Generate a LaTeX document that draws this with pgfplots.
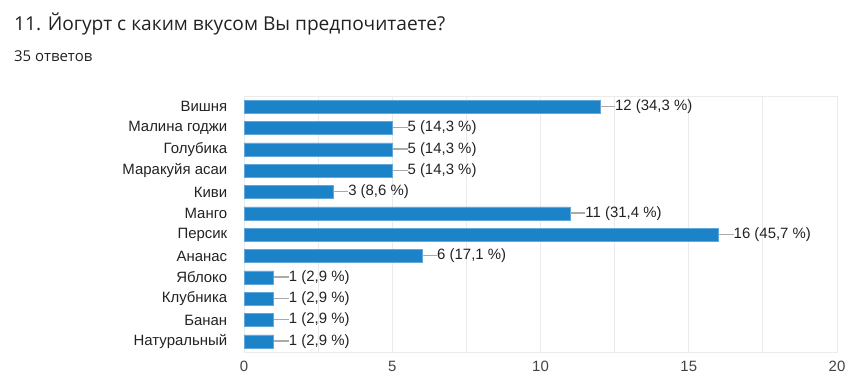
\documentclass[border=0pt]{standalone}
\usepackage{pgfplots}
\usepackage{pgfplotstable}
\usepackage{fontspec}
\pgfplotsset{compat=1.18}
\setmainfont{Liberation Sans}
\newfontfamily\titlefont{Open Sans}
\definecolor{barblue}{HTML}{1C83C9}
\definecolor{gridgray}{HTML}{EBEBEB}
\definecolor{leader}{HTML}{AAAAAA}
\definecolor{txt}{HTML}{222222}
\definecolor{ticktxt}{HTML}{444444}
\pgfplotsset{/pgf/number format/assume math mode=true}
\pgfplotstableread{
idx value pct
0 12 34,3
1 5 14,3
2 5 14,3
3 5 14,3
4 3 8,6
5 11 31,4
6 16 45,7
7 6 17,1
8 1 2,9
9 1 2,9
10 1 2,9
11 1 2,9
}\datatable
\begin{document}
\begin{tikzpicture}[x=1bp,y=1bp]
\path[use as bounding box] (0,0) rectangle (856,386);
\node[anchor=west, inner sep=0pt, text=txt] at (14,362) {\titlefont\fontsize{19.2}{23}\selectfont 11. Йогурт с каким вкусом Вы предпочитаете?};
\node[anchor=west, inner sep=0pt, text=txt] at (14,330) {\titlefont\fontsize{15}{18}\selectfont 35 ответов};
\begin{axis}[
  at={(244bp,34bp)}, anchor=south west,
  scale only axis, width=593bp, height=256bp,
  xmin=0, xmax=20, ymin=-0.5, ymax=11.5,
  y dir=reverse,
  xbar, bar width=13bp,
  xtick={0,5,10,15,20},
  minor xtick={2.5,7.5,12.5,17.5},
  xmajorgrids, xminorgrids,
  major grid style={draw=gridgray, line width=0.8bp},
  minor grid style={draw=gridgray, line width=0.8bp},
  axis line style={draw=gridgray, line width=0.8bp},
  major tick style={draw=none}, minor tick style={draw=none},
  ytick={0,...,11},
  yticklabels={Вишня,Малина годжи,Голубика,Маракуйя асаи,Киви,Манго,Персик,Ананас,Яблоко,Клубника,Банан,Натуральный},
  yticklabel style={font=\fontsize{15}{17}\selectfont, text=txt, xshift=-9bp},
  xticklabel style={font=\fontsize{15}{17}\selectfont, text=ticktxt, yshift=-6bp},
  extra x ticks={0},
  extra x tick labels={},
  extra x tick style={grid style={draw=black!80, line width=1.2bp}},
  point meta=explicit symbolic,
  nodes near coords={{\color{leader}\rule[0.24em]{15bp}{1.2bp}}\pgfmathprintnumber[int detect]{\pgfkeysvalueof{/data point/x}} (\pgfplotspointmeta~\%)},
  every node near coord/.append style={anchor=west, inner sep=0pt, xshift=0bp, text=txt, font=\fontsize{15}{17}\selectfont},
  clip=false,
]
\addplot[fill=barblue, draw=barblue!70!white, line width=0.6bp] table[x=value, y=idx, meta=pct] {\datatable};
\end{axis}
\end{tikzpicture}
\end{document}
